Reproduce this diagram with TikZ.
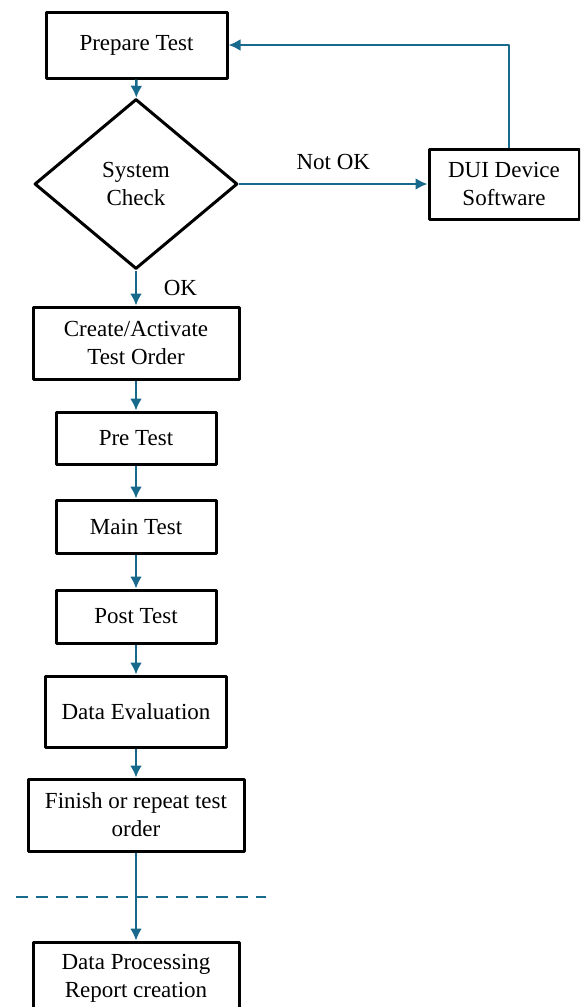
\documentclass[tikz,border=0pt]{standalone}
\usepackage{fontspec}
\setmainfont{Liberation Serif}
\usetikzlibrary{arrows.meta,shapes.geometric}
\definecolor{flowblue}{RGB}{24,106,140}
\begin{document}
\begin{tikzpicture}[x=0.5pt,y=-0.5pt,line join=round,
		font=\fontsize{11.5}{14}\selectfont,
		box/.style={draw,line width=1.5pt,align=center,inner sep=0pt},
		link/.style={draw=flowblue,line width=1.2pt,-{Latex[length=6pt,width=6pt]}}]
			\useasboundingbox (0,0) rectangle (580,1007);
			\clip (0,0) rectangle (580,1007);
			\node[box,minimum width=90.5pt,minimum height=33pt] (prep) at (136.5,45) {Prepare Test};
			\node[box,diamond,minimum width=101.5pt,minimum height=85pt] (check) at (136,184) {System\\Check};
			\node[box,minimum width=75pt,minimum height=35pt] (dui) at (504,184) {DUI Device\\Software};
			\node[box,minimum width=103pt,minimum height=36pt] (create) at (136,343) {Create/Activate\\Test Order};
			\node[box,minimum width=80pt,minimum height=26pt] (pre) at (136,438) {Pre Test};
			\node[box,minimum width=80pt,minimum height=26.5pt] (main) at (136,526.5) {Main Test};
			\node[box,minimum width=80pt,minimum height=26.5pt] (post) at (136,616.5) {Post Test};
			\node[box,minimum width=90.5pt,minimum height=35.5pt] (eval) at (136,711.5) {Data Evaluation};
			\node[box,minimum width=108pt,minimum height=36pt] (finish) at (136,815) {Finish or repeat test\\order};
			\node[box,minimum width=103pt,minimum height=36pt] (proc) at (136,978) {Data Processing\\Report creation};
			\coordinate (sepL) at (16,897);
			\coordinate (sepR) at (266,897);
			\draw[flowblue,line width=1.2pt,dash pattern=on 6pt off 4pt] (sepL) -- (sepR);
			\draw[link] (prep) -- (check);
			\draw[link] (check.east) -- node[above=3pt] (notok) {Not OK} (dui.west);
			\draw[link] ([xshift=2.5pt]dui.north) |- (prep.east);
			\draw[link] (check.south) -- node[right=10pt] (ok) {OK} (create.north);
			\draw[link] (create) -- (pre);
			\draw[link] (pre) -- (main);
			\draw[link] (main) -- (post);
			\draw[link] (post) -- (eval);
			\draw[link] (eval) -- (finish);
			\draw[link] (finish) -- (proc);
		\end{tikzpicture}
\end{document}
